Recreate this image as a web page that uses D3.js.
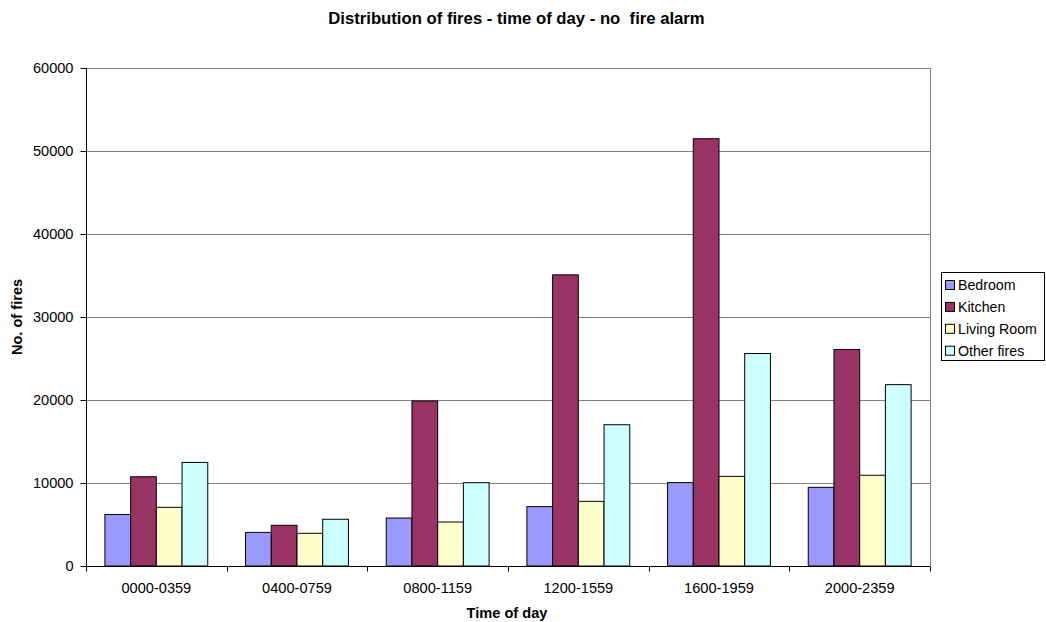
<!DOCTYPE html>
<html><head><meta charset="utf-8">
<script src="https://cdn.jsdelivr.net/npm/d3@7"></script>
<style>body{margin:0;background:#fff;font-family:"Liberation Sans",Arial,sans-serif;}</style>
</head><body>
<svg id="c" width="1046" height="622"></svg>
<script>
const categories = ["0000-0359","0400-0759","0800-1159","1200-1559","1600-1959","2000-2359"];
const seriesNames = ["Bedroom","Kitchen","Living Room","Other fires"];
const bedroom = [6200, 4050, 5780, 7150, 10050, 9480];
const kitchen = [10750, 4900, 19880, 35080, 51480, 26080];
const livingRoom = [7070, 3940, 5300, 7790, 10800, 10930];
const otherFires = [12480, 5630, 10040, 17020, 25600, 21850];
const colors = ["#9999FF","#993366","#FFFFCC","#CCFFFF"];
const yTicks = [0,10000,20000,30000,40000,50000,60000];

const seriesValues = [bedroom, kitchen, livingRoom, otherFires];
const svg = d3.select("#c");
const FF = "Liberation Sans, Arial, sans-serif";
const L=86, R=930, T=68, B=566;
const x = d3.scaleBand().domain(categories).range([L,R]).paddingInner(0).paddingOuter(0);
const xs = d3.scaleBand().domain(seriesNames).range([0,x.bandwidth()]).paddingInner(0).paddingOuter(0.735);
const y = d3.scaleLinear().domain([0,60000]).range([B,T]);

// gridlines
svg.append("g").selectAll("line").data(yTicks.filter(d=>d>0)).join("line")
  .attr("x1",L).attr("x2",R).attr("y1",d=>Math.round(y(d))+0.5).attr("y2",d=>Math.round(y(d))+0.5)
  .attr("stroke","#808080").attr("stroke-width",1);
// right border
svg.append("line").attr("x1",R+0.5).attr("x2",R+0.5).attr("y1",T).attr("y2",B).attr("stroke","#808080");

// bars
const g = svg.append("g");
categories.forEach((c,i)=>{
  seriesNames.forEach((s,j)=>{
    const v = seriesValues[j][i];
    g.append("rect")
      .attr("x", x(c)+xs(s)).attr("width", xs.bandwidth())
      .attr("y", y(v)).attr("height", B - y(v))
      .attr("fill", colors[j]).attr("stroke","#000").attr("stroke-width",1);
  });
});

// axes
const yAxis = d3.axisLeft(y).tickValues(yTicks).tickSize(6).tickPadding(7).tickFormat(d3.format("d"));
const ya = svg.append("g").attr("transform",`translate(${L+0.5},0)`).call(yAxis);
ya.select(".domain").attr("stroke","#000").attr("d",`M0,${T}V${B}`);
ya.selectAll("text").style("font-family",FF).style("font-size","14.6px").attr("fill","#000");

const xAxis = d3.axisBottom(x).tickSize(0).tickPadding(16);
const xa = svg.append("g").attr("transform",`translate(0,${B+0.5})`).call(xAxis);
xa.select(".domain").attr("stroke","#000").attr("d",`M${L},0H${R}`);
xa.selectAll("text").style("font-family",FF).style("font-size","14.6px").attr("fill","#000");
// category boundary ticks
xa.append("g").selectAll("line").data(d3.range(categories.length+1)).join("line")
  .attr("x1",d=>Math.round(L + d*x.step())+0.5).attr("x2",d=>Math.round(L + d*x.step())+0.5)
  .attr("y1",0).attr("y2",5).attr("stroke","#000");

// titles
svg.append("text").attr("x",516.5).attr("y",24).attr("text-anchor","middle")
  .style("font-family",FF).style("font-size","16.7px").style("font-weight","bold").style("white-space","pre")
  .text("Distribution of fires - time of day - no  fire alarm");
svg.append("text").attr("x",507).attr("y",618).attr("text-anchor","middle")
  .style("font-family",FF).style("font-size","14.6px").style("font-weight","bold").text("Time of day");
svg.append("text").attr("transform","translate(22,317) rotate(-90)").attr("text-anchor","middle")
  .style("font-family",FF).style("font-size","14.6px").style("font-weight","bold").text("No. of fires");

// legend
const lg = svg.append("g");
lg.append("rect").attr("x",941.5).attr("y",272.5).attr("width",103).attr("height",88)
  .attr("fill","#fff").attr("stroke","#000");
seriesNames.forEach((s,j)=>{
  const cy = 285 + j*21.9;
  lg.append("rect").attr("x",945.5).attr("y",cy-4.5).attr("width",9).attr("height",9)
    .attr("fill",colors[j]).attr("stroke","#000");
  lg.append("text").attr("x",958).attr("y",cy+5.2).style("font-family",FF).style("font-size","14.2px").text(s);
});
</script>
</body></html>
